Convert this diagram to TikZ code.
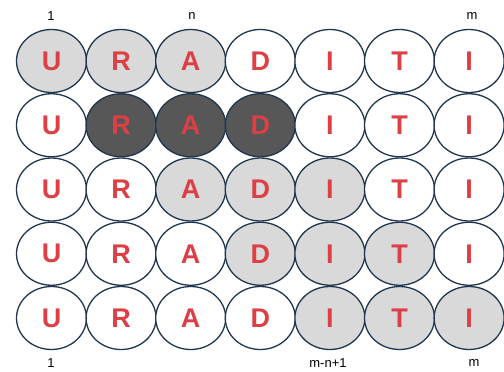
\documentclass[tikz,border=0pt]{standalone}
\usepackage{fontspec}
\setmainfont{Liberation Sans}
\usetikzlibrary{shapes.geometric}
\definecolor{ring}{HTML}{1F3550}
\definecolor{lite}{HTML}{D9D9D9}
\definecolor{dark}{HTML}{575757}
\definecolor{letter}{HTML}{DC3F45}
\tikzset{
  cell/.style={ellipse, draw=ring, line width=1.3pt, minimum width=70pt, minimum height=63pt, inner sep=0pt,
    font=\fontsize{27}{27}\selectfont\bfseries, text=letter},
  wcell/.style={cell, fill=white},
  lcell/.style={cell, fill=lite},
  dcell/.style={cell, fill=dark},
  idx/.style={font=\fontsize{13}{13}\selectfont, text=black, inner sep=0pt}
}
\begin{document}
\begin{tikzpicture}[x=1pt,y=-1pt]
\useasboundingbox (0,0) rectangle (504,372);
\def\letters{{"U","R","A","D","I","T","I"}}
% fill pattern: 0 white, 1 light, 2 dark
\foreach \r/\pat in {1/{1,1,1,0,0,0,0},2/{0,2,2,2,0,0,0},3/{0,0,1,1,1,0,0},4/{0,0,0,1,1,1,0},5/{0,0,0,0,1,1,1}}{
  \foreach \f [count=\c] in \pat {
    \pgfmathsetmacro{\xx}{51.5+69.6*(\c-1)}
    \pgfmathsetmacro{\yy}{61+64.25*(\r-1)}
    \pgfmathsetmacro{\lt}{\letters[\c-1]}
    \ifcase\f
      \node[wcell] (c\r-\c) at (\xx,\yy) {\lt};
    \or
      \node[lcell] (c\r-\c) at (\xx,\yy) {\lt};
    \or
      \node[dcell] (c\r-\c) at (\xx,\yy) {\lt};
    \fi
  }
}
\node[idx] (t1) at (51,16) {1};
\node[idx] (tn) at (192,16) {n};
\node[idx] (tm) at (472,16) {m};
\node[idx] (b1) at (51,363) {1};
\node[idx] (bmn) at (328,363) {m-n+1};
\node[idx] (bm) at (474,363) {m};
\end{tikzpicture}
\end{document}
